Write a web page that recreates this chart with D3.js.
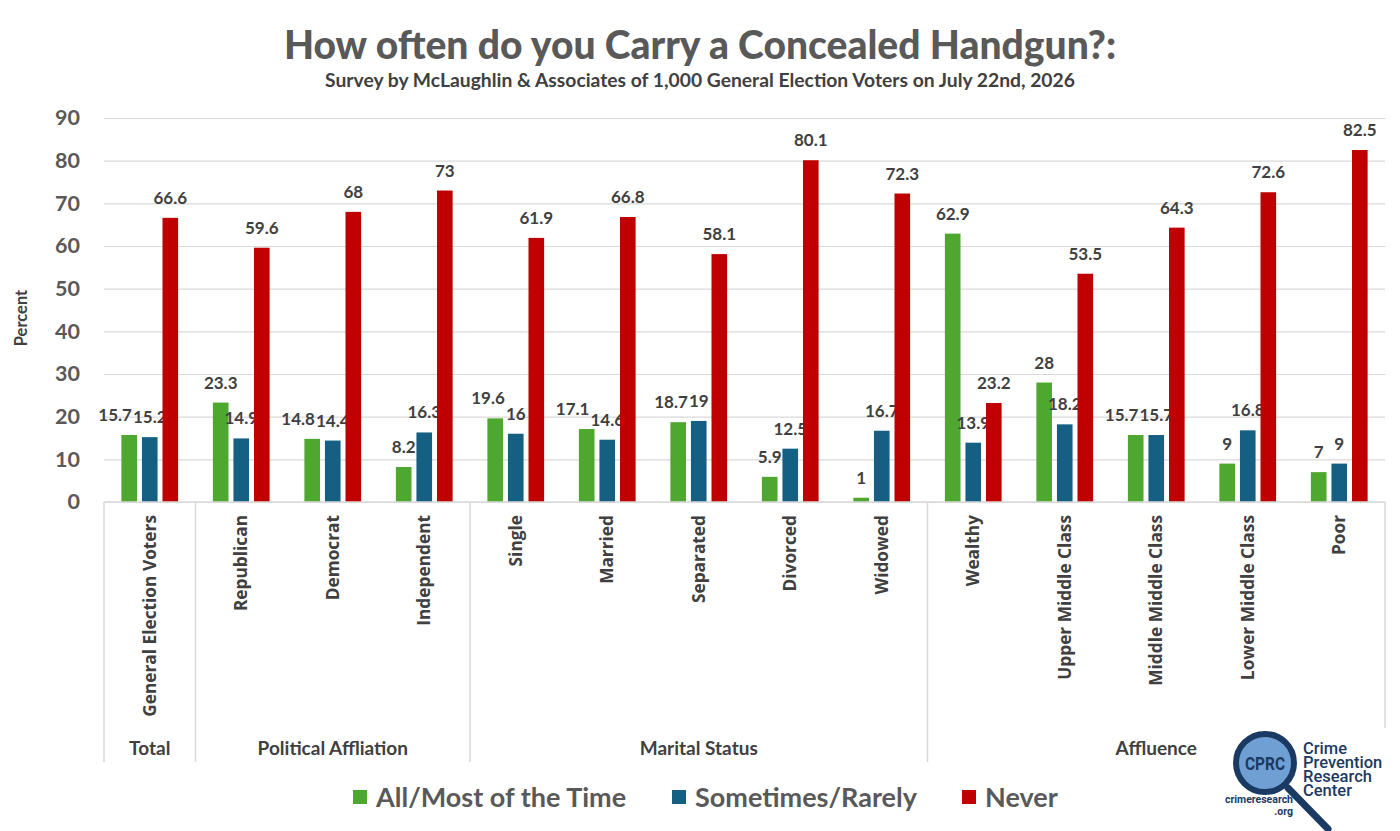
<!DOCTYPE html>
<html lang="en">
<head>
  <meta charset="UTF-8" />
  <title>Concealed carry</title>
  <script src="https://cdnjs.cloudflare.com/ajax/libs/d3/7.8.5/d3.min.js"></script>
  <style>
    body { margin: 0; background: #fff; }
    svg { display: block; }
  </style>
</head>
<body>
  <svg id="svg"></svg>
</body>
<script>
  // data
  const categories = ["General Election Voters", "Republican", "Democrat", "Independent",
    "Single", "Married", "Separated", "Divorced", "Widowed",
    "Wealthy", "Upper Middle Class", "Middle Middle Class", "Lower Middle Class", "Poor"];
  const groups = ["Total", "Political Affliation", "Marital Status", "Affluence"];
  const groupSizes = [1, 3, 5, 5];
  const seriesNames = ["All/Most of the Time", "Sometimes/Rarely", "Never"];
  const mostTime = [15.7, 23.3, 14.8, 8.2, 19.6, 17.1, 18.7, 5.9, 1, 62.9, 28, 15.7, 9, 7];
  const sometimes = [15.2, 14.9, 14.4, 16.3, 16, 14.6, 19, 12.5, 16.7, 13.9, 18.2, 15.7, 16.8, 9];
  const never = [66.6, 59.6, 68, 73, 61.9, 66.8, 58.1, 80.1, 72.3, 23.2, 53.5, 64.3, 72.6, 82.5];
  const yTicks = [0, 10, 20, 30, 40, 50, 60, 70, 80, 90];

  const seriesValues = [mostTime, sometimes, never];
  const colors = ["#4ea72e", "#156082", "#c00000"];

  const width = 1400;
  const height = 831;
  const margin = { top: 118, right: 15, bottom: 329, left: 104 };
  const innerWidth = width - margin.left - margin.right;
  const innerHeight = height - margin.top - margin.bottom;

  const svg = d3.select("#svg").attr("width", width).attr("height", height);
  const font = "Lato, 'Open Sans', sans-serif";

  // titles
  svg.append("text")
    .attr("x", 700).attr("y", 59)
    .attr("text-anchor", "middle")
    .attr("font-family", font).attr("font-weight", "900")
    .attr("font-size", 39).attr("fill", "#595959")
    .text("How often do you Carry a Concealed Handgun?:");
  svg.append("text")
    .attr("x", 700).attr("y", 87)
    .attr("text-anchor", "middle")
    .attr("font-family", font).attr("font-weight", "bold")
    .attr("font-size", 19.3).attr("fill", "#404040")
    .text("Survey by McLaughlin & Associates of 1,000 General Election Voters on July 22nd, 2026");

  const g = svg.append("g").attr("transform", `translate(${margin.left}, ${margin.top})`);

  const x0 = d3.scaleBand().domain(categories).range([0, innerWidth]).paddingInner(0.38).paddingOuter(0.19);
  const x1 = d3.scaleBand().domain(seriesNames).range([0, x0.bandwidth()]).paddingInner(0.24);
  const y = d3.scaleLinear().domain([0, 90]).range([innerHeight, 0]);

  // gridlines + y ticks
  const yAxis = d3.axisLeft(y).tickValues(yTicks).tickSize(-innerWidth).tickPadding(24);
  const yG = g.append("g").call(yAxis);
  yG.select(".domain").remove();
  yG.selectAll(".tick line").attr("stroke", "#d9d9d9").attr("stroke-width", 1.2);
  yG.selectAll(".tick text")
    .attr("font-family", font).attr("font-weight", "bold")
    .attr("font-size", 21.5).attr("fill", "#595959");

  svg.append("text")
    .attr("transform", `translate(27, 318) rotate(-90)`)
    .attr("text-anchor", "middle")
    .attr("font-family", font).attr("font-weight", "bold")
    .attr("font-size", 16.5).attr("fill", "#404040")
    .text("Percent");

  // bars and labels, series by series
  const labelSel = [];
  seriesNames.forEach((s, si) => {
    const vals = seriesValues[si];
    g.append("g").selectAll("rect")
      .data(categories)
      .join("rect")
      .attr("x", (d) => x0(d) + x1(s))
      .attr("y", (d, i) => y(vals[i]))
      .attr("width", x1.bandwidth())
      .attr("height", (d, i) => innerHeight - y(vals[i]))
      .attr("fill", colors[si]);
    const lab = g.append("g").selectAll("text")
      .data(categories)
      .join("text")
      .attr("x", (d) => x0(d) + x1(s) + x1.bandwidth() / 2)
      .attr("y", (d, i) => y(vals[i]) - 14)
      .attr("text-anchor", "middle")
      .attr("font-family", font).attr("font-weight", "bold")
      .attr("font-size", 17).attr("fill", "#404040")
      .text((d, i) => vals[i]);
    labelSel.push(lab.nodes());
  });

  // nudge green labels left when they run into the blue ones
  categories.forEach((c, i) => {
    const a = labelSel[0][i], b = labelSel[1][i];
    const ay = +a.getAttribute("y"), by = +b.getAttribute("y");
    if (Math.abs(ay - by) > 16) return;
    const ax = +a.getAttribute("x"), bx = +b.getAttribute("x");
    const aw = a.getComputedTextLength(), bw = b.getComputedTextLength();
    const overlap = (ax + aw / 2 + 1) - (bx - bw / 2);
    if (overlap > 0) a.setAttribute("x", ax - overlap);
  });

  // category axis
  const step = x0.step();
  g.append("line")
    .attr("x1", 0).attr("x2", innerWidth)
    .attr("y1", innerHeight).attr("y2", innerHeight)
    .attr("stroke", "#d9d9d9").attr("stroke-width", 1.5);

  g.append("g").selectAll("text")
    .data(categories)
    .join("text")
    .attr("transform", (d) => `translate(${x0(d) + x0.bandwidth() / 2 + 6}, ${innerHeight + 13}) rotate(-90)`)
    .attr("text-anchor", "end")
    .attr("font-family", "'Open Sans', sans-serif").attr("font-weight", "bold")
    .attr("font-size", 17.3).attr("fill", "#404040")
    .text((d) => d);

  // group separators and names
  let start = 0;
  const bounds = [0];
  groupSizes.forEach((n) => { start += n; bounds.push(start); });
  g.append("g").selectAll("line")
    .data(bounds)
    .join("line")
    .attr("x1", (d) => d * step).attr("x2", (d) => d * step)
    .attr("y1", innerHeight).attr("y2", innerHeight + 260)
    .attr("stroke", "#d9d9d9").attr("stroke-width", 1.5);
  g.append("g").selectAll("text")
    .data(groups)
    .join("text")
    .attr("x", (d, i) => (bounds[i] + bounds[i + 1]) / 2 * step)
    .attr("y", innerHeight + 253)
    .attr("text-anchor", "middle")
    .attr("font-family", font).attr("font-weight", "bold")
    .attr("font-size", 19).attr("fill", "#404040")
    .text((d) => d);

  // legend
  const legendX = [353, 672, 962];
  const legend = svg.append("g").selectAll("g")
    .data(seriesNames)
    .join("g")
    .attr("transform", (d, i) => `translate(${legendX[i]}, 797)`);
  legend.append("rect")
    .attr("x", 0).attr("y", -7).attr("width", 14).attr("height", 14)
    .attr("fill", (d, i) => colors[i]);
  legend.append("text")
    .attr("x", 23).attr("y", 9.5)
    .attr("font-family", font).attr("font-weight", "bold")
    .attr("font-size", 27).attr("fill", "#595959")
    .text((d) => d);

  // CPRC logo
  const logo = svg.append("g");
  logo.append("rect").attr("x", 1222).attr("y", 728).attr("width", 178).attr("height", 103).attr("fill", "#fff");
  logo.append("line")
    .attr("x1", 1288).attr("y1", 788).attr("x2", 1328).attr("y2", 829)
    .attr("stroke", "#1b3a63").attr("stroke-width", 7).attr("stroke-linecap", "round");
  logo.append("circle").attr("cx", 1265).attr("cy", 763).attr("r", 29)
    .attr("fill", "#6f9fd3").attr("stroke", "#1b3a63").attr("stroke-width", 6);
  logo.append("text").attr("x", 1265).attr("y", 770)
    .attr("text-anchor", "middle")
    .attr("font-family", "'Liberation Sans Narrow', 'Roboto', sans-serif").attr("font-weight", "bold")
    .attr("font-size", 19).attr("fill", "#1b3a63")
    .attr("textLength", 40).attr("lengthAdjust", "spacingAndGlyphs")
    .text("CPRC");
  const logoLines = ["Crime", "Prevention", "Research", "Center"];
  logo.append("g").selectAll("text")
    .data(logoLines)
    .join("text")
    .attr("x", 1303).attr("y", (d, i) => 754 + i * 14)
    .attr("font-family", "Roboto, sans-serif").attr("font-weight", "500")
    .attr("font-size", 16.5).attr("fill", "#1b3a63")
    .text((d) => d);
  logo.append("text").attr("x", 1293).attr("y", 803).attr("text-anchor", "end")
    .attr("font-family", "Roboto, sans-serif").attr("font-weight", "bold")
    .attr("font-size", 10.5).attr("fill", "#1b3a63").text("crimeresearch");
  logo.append("text").attr("x", 1293).attr("y", 815).attr("text-anchor", "end")
    .attr("font-family", "Roboto, sans-serif").attr("font-weight", "bold")
    .attr("font-size", 10.5).attr("fill", "#1b3a63").text(".org");
</script>
</html>
